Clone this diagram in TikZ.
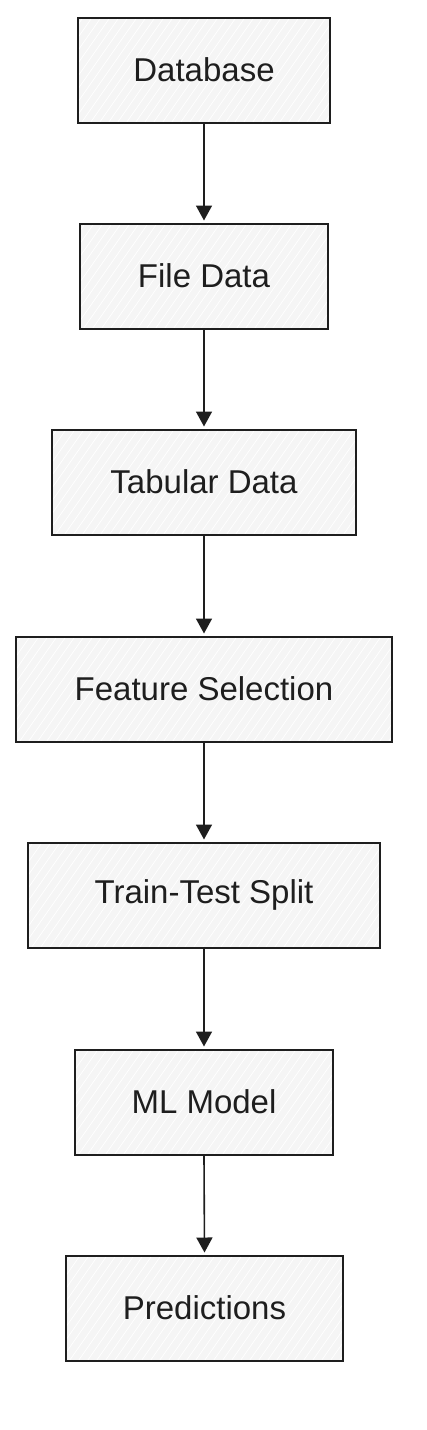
\documentclass[tikz,border=0pt]{standalone}
\usepackage{fontspec}
\setmainfont{Liberation Sans}
\usetikzlibrary{arrows.meta,calc}
\definecolor{ink}{HTML}{1E1E1E}
\definecolor{boxfill}{HTML}{F5F5F5}
\tikzset{
  hatch/.style={white, line width=0.7pt},
  flowbox/.style={draw=ink, line width=2pt, fill=boxfill, rectangle,
    minimum height=105pt, inner sep=0pt,
    font=\fontsize{33}{38}\selectfont, text=ink,
    path picture={\foreach \k in {-10,...,45}{\draw[hatch] ($(path picture bounding box.south west)+(\k*9pt,-5pt)$) -- ++(55:220pt);}}},
  arr/.style={draw=ink, line width=1.6pt, -{Triangle[width=16pt,length=15pt]}, shorten >=2pt}
}
\begin{document}
\begin{tikzpicture}[x=1pt,y=-1pt]
\useasboundingbox (0,0) rectangle (426,1430);
\node[flowbox, minimum width=252pt] (db) at (204,70) {Database};
\node[flowbox, minimum width=248pt] (fd) at (204,276) {File Data};
\node[flowbox, minimum width=304pt] (td) at (204,482) {Tabular Data};
\node[flowbox, minimum width=376pt] (fs) at (204,689) {Feature Selection};
\node[flowbox, minimum width=352pt] (tt) at (204,895) {Train-Test Split};
\node[flowbox, minimum width=258pt] (ml) at (204,1102) {ML Model};
\node[flowbox, minimum width=277pt] (pr) at (204.5,1308) {Predictions};
\draw[arr] (db.south) -- (fd.north);
\draw[arr] (fd.south) -- (td.north);
\draw[arr] (td.south) -- (fs.north);
\draw[arr] (fs.south) -- (tt.north);
\draw[arr] (tt.south) -- (ml.north);
\draw[arr] (ml.south) -- (pr.north);
\end{tikzpicture}
\end{document}
